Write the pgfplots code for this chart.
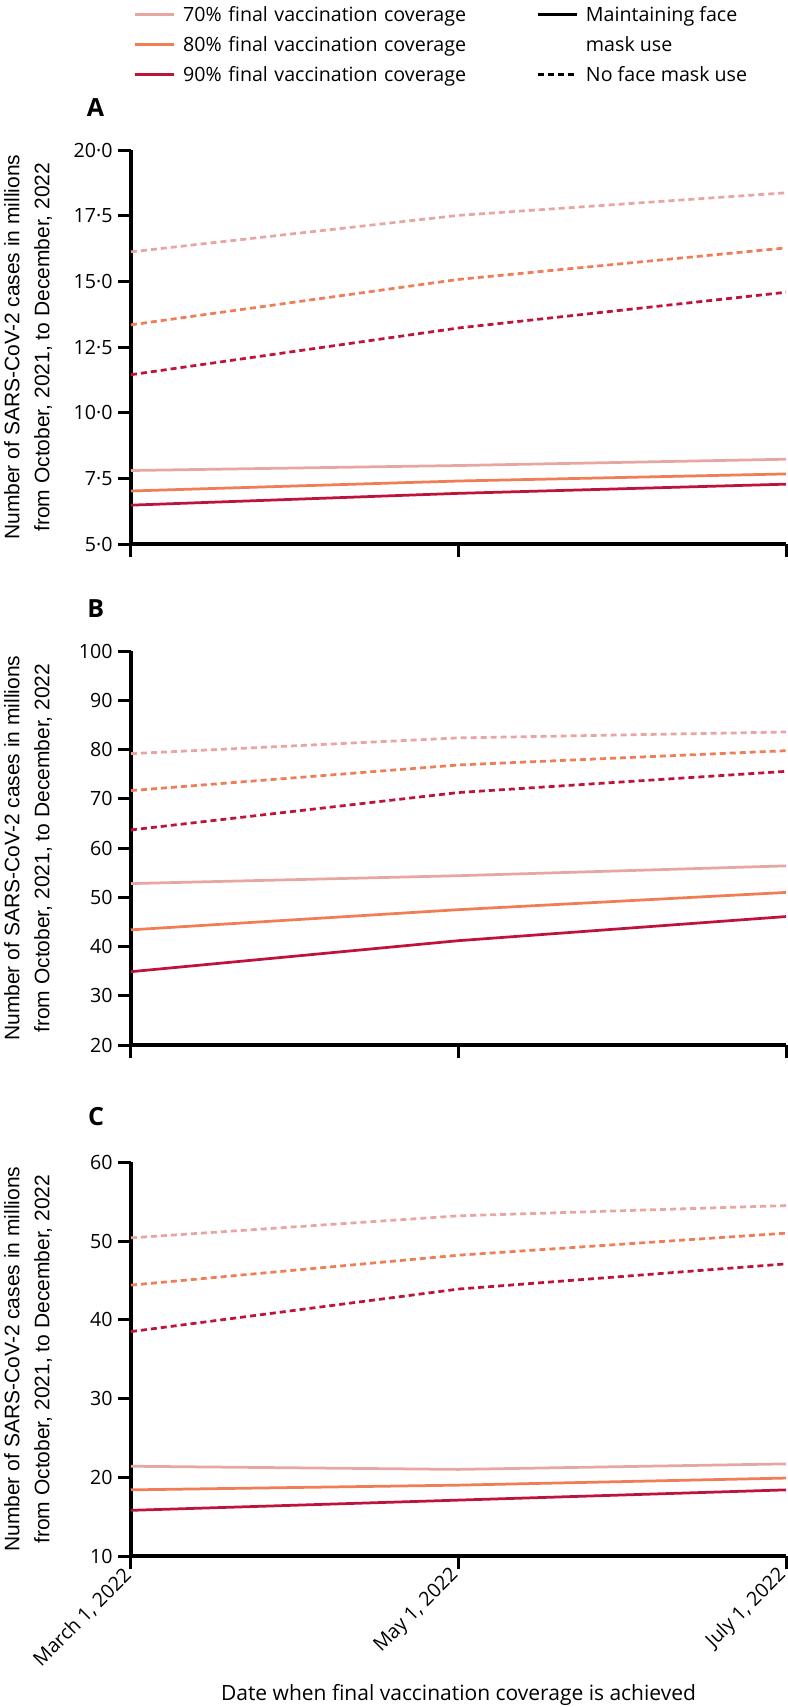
\documentclass[border=0pt]{standalone}
\usepackage{fontspec}
\setmainfont{Open Sans}
\newfontfamily\ylabfont{Liberation Sans}
\usepackage{pgfplots}
\pgfplotsset{compat=1.18}
\usepackage{pgfplotstable}
\definecolor{c70}{HTML}{E8A6A2}
\definecolor{c80}{HTML}{F07D55}
\definecolor{c90}{HTML}{BE143C}

\pgfplotstableread{
x s70 s80 s90 d70 d80 d90
0 7.80 7.02 6.48 16.13 13.35 11.45
1 7.99 7.40 6.93 17.52 15.08 13.23
2 8.23 7.67 7.28 18.38 16.28 14.59
}\dataA
\pgfplotstableread{
x s70 s80 s90 d70 d80 d90
0 52.8 43.4 34.9 79.2 71.7 63.7
1 54.4 47.5 41.2 82.4 76.9 71.3
2 56.4 51.0 46.1 83.6 79.8 75.6
}\dataB
\pgfplotstableread{
x s70 s80 s90 d70 d80 d90
0 21.4 18.4 15.8 50.4 44.4 38.5
1 21.0 19.0 17.1 53.2 48.2 43.9
2 21.7 19.9 18.4 54.5 51.0 47.1
}\dataC

\newcommand{\tf}{\fontsize{7.85}{9}\selectfont}

\pgfplotsset{
 panel/.style={
  scale only axis, width=262pt, height=157.5pt,
  anchor=south west,
  xmin=0, xmax=2, xtick={0,1,2},
  axis x line*=bottom, axis y line*=left,
  axis line style={line width=1.4pt, -},
  tick style={line width=1.2pt, black},
  major tick length=5.2pt, tick align=outside,
  ticklabel style={font=\tf},
  yticklabel style={inner xsep=2pt},
  ylabel={Number of SARS-CoV-2 cases in millions\\from October, 2021, to December, 2022},
  ylabel style={at={(axis description cs:-0.157,0.5)}, anchor=center, align=center,
     font=\ylabfont\fontsize{8.4}{12}\selectfont},
  every axis title shift=0pt,
  title style={at={(axis description cs:0,1)}, anchor=base east, xshift=-7.2pt, yshift=13.4pt,
     font=\bfseries\fontsize{10}{12}\selectfont},
  clip=false,
 },
 s70/.style={c70, line width=1.1pt},
 s80/.style={c80, line width=1.1pt},
 s90/.style={c90, line width=1.1pt},
 dsh/.style={dash pattern=on 2.4pt off 1.6pt},
}

\begin{document}
\begin{tikzpicture}
\useasboundingbox (0,0) rectangle (315.2pt,-682.8pt);

% Panel A
\begin{axis}[panel, at={(52.4pt,-217.6pt)},
  title={A},
  ymin=5, ymax=20, ytick={5,7.5,10,12.5,15,17.5,20},
  yticklabels={5·0,7·5,10·0,12·5,15·0,17·5,20·0},
  xticklabels={,,},
  legend columns=2,
  legend cell align=left,
  legend image code/.code={\draw[#1] (0pt,0pt) -- (15.6pt,0pt);},
  legend style={draw=none, fill=none, inner sep=0pt,
    at={(axis description cs:0,1)}, anchor=north west, xshift=0.8pt, yshift=60.4pt,
    column sep=0pt, row sep=0pt, font=\tf,
    nodes={inner xsep=3.2pt, inner ysep=0pt, text height=8.5pt, text depth=3.5pt},
    /tikz/column 2/.style={nodes={text width=138pt}}},
]
\addplot[s70, forget plot] table[x=x,y=s70]{\dataA};
\addplot[s80, forget plot] table[x=x,y=s80]{\dataA};
\addplot[s90, forget plot] table[x=x,y=s90]{\dataA};
\addplot[s70, dsh, forget plot] table[x=x,y=d70]{\dataA};
\addplot[s80, dsh, forget plot] table[x=x,y=d80]{\dataA};
\addplot[s90, dsh, forget plot] table[x=x,y=d90]{\dataA};
\addlegendimage{s70}
\addlegendentry{70\% final vaccination coverage}
\addlegendimage{black, line width=1.1pt}
\addlegendentry{Maintaining face}
\addlegendimage{s80}
\addlegendentry{80\% final vaccination coverage}
\addlegendimage{empty legend}
\addlegendentry{mask use}
\addlegendimage{s90}
\addlegendentry{90\% final vaccination coverage}
\addlegendimage{black, line width=1.1pt, dsh}
\addlegendentry{No face mask use}
\end{axis}

% Panel B
\begin{axis}[panel, at={(52.4pt,-418pt)},
  title={B},
  ymin=20, ymax=100, ytick={20,30,...,100},
  yticklabels={20,30,40,50,60,70,80,90,100},
  xticklabels={,,},
]
\addplot[s70] table[x=x,y=s70]{\dataB};
\addplot[s80] table[x=x,y=s80]{\dataB};
\addplot[s90] table[x=x,y=s90]{\dataB};
\addplot[s70, dsh] table[x=x,y=d70]{\dataB};
\addplot[s80, dsh] table[x=x,y=d80]{\dataB};
\addplot[s90, dsh] table[x=x,y=d90]{\dataB};
\end{axis}

% Panel C
\begin{axis}[panel, at={(52.4pt,-622.4pt)},
  title={C}, title style={yshift=1.5pt},
  ymin=10, ymax=60, ytick={10,20,...,60},
  yticklabels={10,20,30,40,50,60},
  xticklabels={{March 1, 2022},{May 1, 2022},{July 1, 2022}},
  xticklabel style={rotate=45, anchor=east, inner sep=1.5pt},
  xlabel={Date when final vaccination coverage is achieved},
  xlabel style={at={(axis description cs:0.5,-0.366)}, anchor=base,
     font=\fontsize{8.4}{10}\selectfont},
]
\addplot[s70] table[x=x,y=s70]{\dataC};
\addplot[s80] table[x=x,y=s80]{\dataC};
\addplot[s90] table[x=x,y=s90]{\dataC};
\addplot[s70, dsh] table[x=x,y=d70]{\dataC};
\addplot[s80, dsh] table[x=x,y=d80]{\dataC};
\addplot[s90, dsh] table[x=x,y=d90]{\dataC};
\end{axis}
\end{tikzpicture}
\end{document}
